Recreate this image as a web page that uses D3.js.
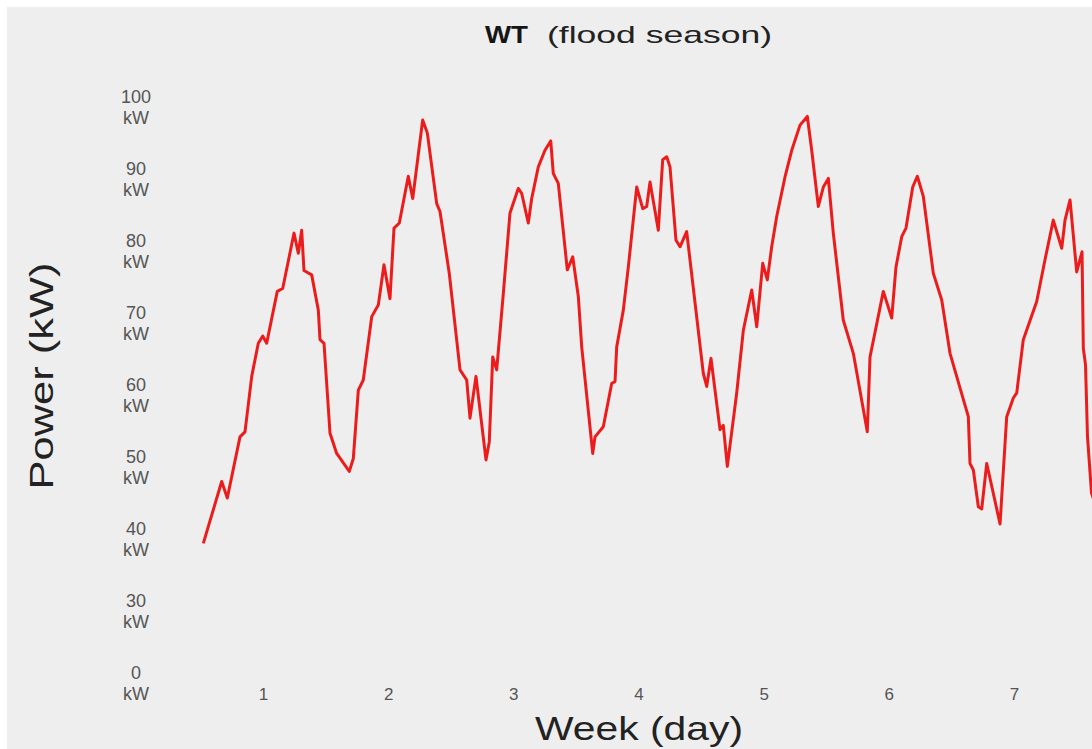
<!DOCTYPE html>
<html>
<head>
<meta charset="utf-8">
<script src="https://cdn.jsdelivr.net/npm/d3@7"></script>
<style>
  html, body { margin: 0; padding: 0; background: #ffffff; }
  svg { display: block; }
</style>
</head>
<body>
<svg id="chart" width="1092" height="749"></svg>
<script>
// ---- data (hour of week, power in kW) ----
const hours = [0.56, 4.08, 5.16, 7.59, 8.55, 9.84, 11.10, 11.95, 12.71, 14.74, 15.78, 17.95, 18.77, 19.42, 19.86, 21.34, 22.61, 22.93, 23.70,
  24.85, 26.13, 28.55, 29.32, 30.28, 31.23, 32.85, 34.11, 35.20, 36.35, 37.12, 38.14, 39.86, 40.71, 42.62, 43.51, 45.31, 45.94, 47.72,
  49.78, 51.06, 51.69, 52.84, 54.76, 55.39, 56.05, 56.81, 58.08, 59.36, 60.95, 61.61, 62.87, 63.52, 64.79, 66.07, 67.17, 67.66, 68.62,
  70.35, 71.39, 72.46, 73.11, 75.22, 75.66, 77.25, 78.86, 79.50, 79.82, 81.09, 82.05, 83.66, 84.81, 85.57, 86.21, 87.80, 88.64, 89.41,
  90.04, 91.19, 91.96, 93.24, 96.43, 97.08, 97.90, 99.63, 100.26, 101.03, 102.83, 104.10, 105.71, 106.67, 107.82, 108.70, 109.54, 110.50,
  112.09, 113.38, 114.97, 116.37, 117.21, 118.48, 119.44, 120.40, 121.35, 123.27, 125.19, 127.87, 128.39, 130.94, 132.55, 133.37, 134.47,
  135.29, 136.58, 137.46, 138.61, 140.53, 142.14, 143.73, 147.24, 147.56, 148.20, 149.16, 149.81, 150.77, 153.32, 154.60, 155.87, 156.52,
  157.78, 160.35, 161.94, 163.53, 165.15, 165.78, 166.74, 168.02, 169.04, 169.29, 169.71, 170.09, 170.86, 171.5];
const power = [38.9, 47.5, 45.2, 53.7, 54.4, 62.1, 66.7, 67.7, 66.7, 73.9, 74.3, 82.0, 79.2, 82.4, 76.8, 76.2, 71.3, 67.2, 66.7,
  54.2, 51.4, 48.9, 50.7, 60.2, 61.6, 70.4, 72.0, 77.6, 72.9, 82.7, 83.4, 89.9, 86.8, 97.7, 95.9, 86.1, 85.0, 76.4,
  63.0, 61.6, 56.3, 62.1, 50.5, 53.0, 64.8, 63.0, 73.6, 84.8, 88.2, 87.5, 83.4, 86.8, 91.2, 93.5, 94.8, 90.3, 88.9,
  76.9, 78.7, 73.2, 66.2, 51.4, 53.7, 55.1, 61.1, 61.4, 66.2, 71.3, 77.3, 88.4, 85.4, 85.7, 89.1, 82.4, 92.2, 92.6,
  91.2, 81.0, 80.1, 82.2, 62.5, 60.7, 64.6, 54.7, 55.3, 49.6, 59.8, 68.5, 74.1, 69.0, 77.8, 75.5, 80.1, 84.3,
  89.8, 93.5, 97.0, 98.2, 93.5, 85.7, 88.4, 89.6, 82.0, 69.9, 65.3, 54.4, 64.8, 73.9, 70.2, 77.3, 81.5,
  82.7, 88.4, 89.9, 87.1, 76.4, 72.7, 65.3, 56.5, 50.0, 49.1, 44.0, 43.7, 50.0, 41.6, 56.5, 59.1, 59.8,
  67.2, 72.5, 78.3, 83.8, 79.9, 83.8, 86.6, 76.6, 79.4, 66.0, 63.7, 53.7, 45.9, 44.5];

// ---- axis ticks ----
const dayTickHours = [12, 36, 60, 84, 108, 132, 156];
const dayLabels = ["1", "2", "3", "4", "5", "6", "7"];
const powerTickValues = [100, 90, 80, 70, 60, 50, 40, 30, 20];
const powerTickLabels = ["100", "90", "80", "70", "60", "50", "40", "30", "0"];
const unitLabel = "kW";

const titleBold = "WT";
const titleRest = "(flood season)";
const xTitle = "Week (day)";
const yTitle = "Power (kW)";

const W = 1092, H = 749;
const svg = d3.select("#chart");
const font = "'Liberation Sans', Arial, Helvetica, sans-serif";

// background
svg.append("rect").attr("x", 0).attr("y", 0).attr("width", W).attr("height", H).attr("fill", "#ffffff");
svg.append("rect").attr("x", 7).attr("y", 7).attr("width", W - 7).attr("height", H - 7).attr("fill", "#eeeeee");

// scales
const x = d3.scaleLinear().domain([0, 168]).range([200.4, 1076.6]);
const y = d3.scaleLinear().domain([20, 100]).range([679.5, 103.5]);

// x axis
const xAxis = d3.axisBottom(x)
  .tickValues(dayTickHours)
  .tickFormat((d, i) => dayLabels[i])
  .tickSize(0).tickPadding(0);
const gx = svg.append("g").attr("transform", "translate(0,700)").call(xAxis);
gx.select(".domain").remove();
gx.selectAll("text")
  .attr("y", 0).attr("dy", 0)
  .attr("font-family", font).attr("font-size", 17).attr("fill", "#555");

// y axis
const yAxis = d3.axisLeft(y)
  .tickValues(powerTickValues)
  .tickFormat((d, i) => powerTickLabels[i])
  .tickSize(0).tickPadding(0);
const gy = svg.append("g").attr("transform", "translate(136,0)").call(yAxis);
gy.select(".domain").remove();
gy.selectAll(".tick text").each(function (d, i) {
  const t = d3.select(this);
  t.text(null)
    .attr("x", 0).attr("dy", null).attr("y", null)
    .attr("text-anchor", "middle")
    .attr("font-family", font).attr("font-size", 18).attr("fill", "#555");
  t.append("tspan").attr("x", 0).attr("y", -1).text(powerTickLabels[i]);
  t.append("tspan").attr("x", 0).attr("y", 20).text(unitLabel);
});

// line
const line = d3.line()
  .x((d, i) => x(hours[i]))
  .y((d) => y(d));
svg.append("path")
  .datum(power)
  .attr("d", line)
  .attr("fill", "none")
  .attr("stroke", "#ec1c1c")
  .attr("stroke-width", 3)
  .attr("stroke-linejoin", "round");

// title
svg.append("text")
  .attr("x", 485).attr("y", 43)
  .attr("font-family", font).attr("font-size", 24).attr("font-weight", "bold")
  .attr("fill", "#151515")
  .attr("textLength", 43).attr("lengthAdjust", "spacingAndGlyphs")
  .text(titleBold);
svg.append("text")
  .attr("x", 547).attr("y", 43)
  .attr("font-family", font).attr("font-size", 24)
  .attr("fill", "#222")
  .attr("textLength", 225).attr("lengthAdjust", "spacingAndGlyphs")
  .text(titleRest);

// axis titles
svg.append("text")
  .attr("x", 639).attr("y", 740)
  .attr("text-anchor", "middle")
  .attr("font-family", font).attr("font-size", 33)
  .attr("fill", "#222")
  .attr("textLength", 208).attr("lengthAdjust", "spacingAndGlyphs")
  .text(xTitle);

svg.append("text")
  .attr("transform", "translate(53,376) rotate(-90)")
  .attr("text-anchor", "middle")
  .attr("font-family", font).attr("font-size", 34)
  .attr("fill", "#222")
  .attr("textLength", 227).attr("lengthAdjust", "spacingAndGlyphs")
  .text(yTitle);
</script>
</body>
</html>
